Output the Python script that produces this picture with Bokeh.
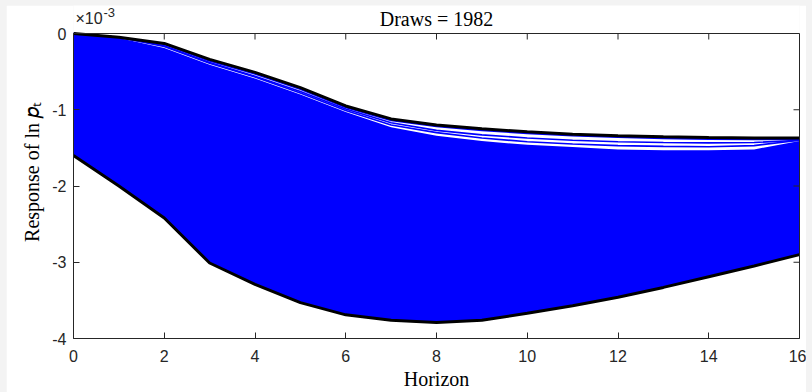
import numpy as np
from bokeh.plotting import figure
from bokeh.models import Range1d, FixedTicker, Label, LinearAxis, Span
from bokeh.embed import file_html
from bokeh.resources import INLINE

horizon = list(range(17))
# envelope of the draws (units of 1e-3)
upper = [0.0, -0.05, -0.13, -0.34, -0.51, -0.71, -0.95, -1.12, -1.20, -1.25, -1.29, -1.32, -1.34, -1.355, -1.365, -1.37, -1.37]
lower = [-1.60, -2.00, -2.42, -3.01, -3.29, -3.53, -3.69, -3.76, -3.79, -3.76, -3.67, -3.57, -3.46, -3.33, -3.19, -3.05, -2.90]
# top of the dense mass of draws
dense_top = [0.0, -0.06, -0.19, -0.41, -0.59, -0.80, -1.03, -1.23, -1.34, -1.41, -1.46, -1.49, -1.52, -1.53, -1.53, -1.52, -1.41]
# a few individual draws lying above the dense mass
draw_a = [0.0, -0.05, -0.14, -0.36, -0.53, -0.73, -0.97, -1.14, -1.22, -1.27, -1.31, -1.34, -1.36, -1.375, -1.385, -1.39, -1.385]
draw_b = [0.0, -0.05, -0.16, -0.38, -0.56, -0.76, -0.99, -1.17, -1.27, -1.33, -1.37, -1.40, -1.42, -1.43, -1.435, -1.43, -1.40]
draw_c = [0.0, -0.05, -0.17, -0.39, -0.57, -0.78, -1.01, -1.20, -1.30, -1.37, -1.42, -1.45, -1.47, -1.48, -1.485, -1.47, -1.40]
x_ticks = [0, 2, 4, 6, 8, 10, 12, 14, 16]
y_ticks = [0, -1, -2, -3, -4]
n_draws = 1982

X_LO, X_HI = 0, 16
Y_LO, Y_HI = -4, 0
TOP_ROOM = 28 / 76.25  # headroom above the box (in axis units) for title and exponent

AX = "#262626"
TICK_FONT = "Liberation Sans"
SERIF = "Liberation Serif"

p = figure(width=800, height=387, output_backend="svg", toolbar_location=None,
           x_range=Range1d(X_LO, X_HI), y_range=Range1d(Y_LO, Y_HI + TOP_ROOM),
           min_border_left=67, min_border_right=7, min_border_top=0, min_border_bottom=54)
p.title = None
p.grid.visible = False
p.outline_line_color = None

p.varea(x=horizon, y1=lower, y2=dense_top, fill_color="#0000FF")
for d in (draw_a, draw_b, draw_c):
    p.line(horizon, d, line_color="#0000FF", line_width=1.6)
p.line(horizon, upper, line_color="black", line_width=3)
p.line(horizon, lower, line_color="black", line_width=3)

# top edge of the box and inward ticks on top and right
p.add_layout(Span(location=Y_HI, dimension="width", line_color=AX, line_width=1))
p.ray(x=x_ticks, y=[Y_HI] * len(x_ticks), length=6, length_units="screen",
      angle=-np.pi / 2, line_color=AX, line_width=1)
p.ray(x=[X_HI] * len(y_ticks), y=y_ticks, length=6, length_units="screen",
      angle=np.pi, line_color=AX, line_width=1)

right = LinearAxis(ticker=FixedTicker(ticks=[]), bounds=(Y_LO, Y_HI), axis_line_color=AX,
                   major_tick_line_color=None, minor_tick_line_color=None)
p.add_layout(right, "right")

for ax in (p.xaxis[0], p.yaxis[0]):
    ax.axis_line_color = AX
    ax.major_tick_line_color = AX
    ax.major_tick_in = 6
    ax.major_tick_out = 0
    ax.minor_tick_line_color = None
    ax.major_label_text_font = TICK_FONT
    ax.major_label_text_font_size = "16px"
    ax.major_label_text_color = AX
    ax.axis_label_text_font = SERIF
    ax.axis_label_text_font_size = "20px"
    ax.axis_label_text_font_style = "normal"
    ax.axis_label_text_color = "#000000"

p.yaxis[0].bounds = (Y_LO, Y_HI)
p.xaxis.ticker = FixedTicker(ticks=x_ticks)
p.yaxis[0].ticker = FixedTicker(ticks=y_ticks)
p.yaxis[0].major_label_overrides = {t: str(t) for t in y_ticks}
p.xaxis.axis_label = "Horizon"
p.yaxis[0].axis_label = "Response of ln \U0001D45D\u209C"
p.xaxis.major_label_standoff = 11
p.yaxis[0].major_label_standoff = 7
p.xaxis.axis_label_standoff = 3
p.yaxis[0].axis_label_standoff = 6

# title and exponent marker, drawn in the headroom above the box
p.add_layout(Label(x=(X_LO + X_HI) / 2, y=Y_HI, y_offset=15, text=f"Draws = {n_draws}",
                   text_align="center", text_baseline="middle", text_font=SERIF,
                   text_font_size="20px", text_color="#000000"))
p.add_layout(Label(x=X_LO, y=Y_HI, x_offset=2, y_offset=15, text="\u00d710",
                   text_baseline="middle", text_font=TICK_FONT,
                   text_font_size="16px", text_color=AX))
p.add_layout(Label(x=X_LO, y=Y_HI, x_offset=30, y_offset=21, text="-3",
                   text_baseline="middle", text_font=TICK_FONT,
                   text_font_size="13px", text_color=AX))

html = file_html(p, INLINE)
html = html.replace("</head>", "<style>html,body{background:#f3f3f3 !important;} body{padding:5px 0 0 6px !important;margin:0 !important;}</style></head>", 1)
open("out.html", "w").write(html)
